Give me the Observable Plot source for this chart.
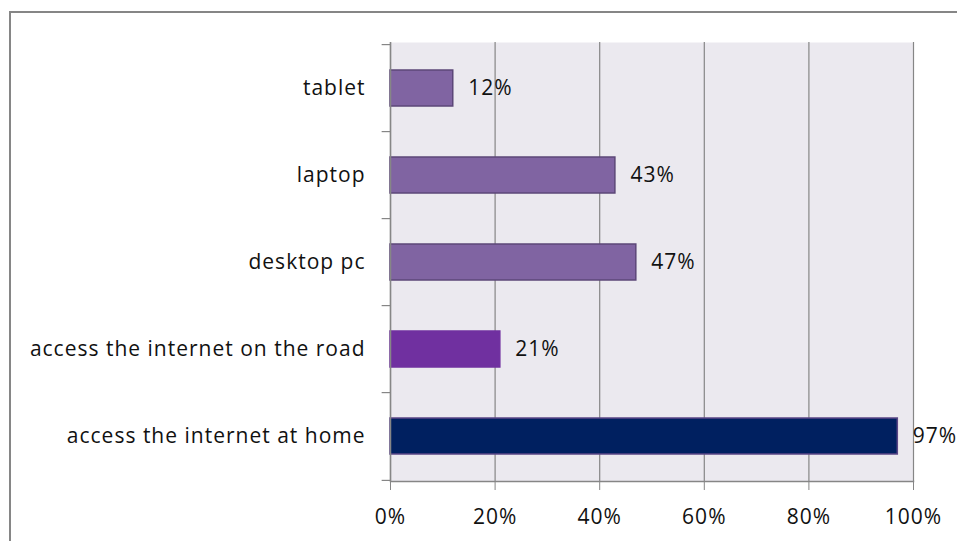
<!DOCTYPE html>
<html>
<head>
<meta charset="utf-8">
<script src="https://cdn.jsdelivr.net/npm/d3@7"></script>
<script src="https://cdn.jsdelivr.net/npm/@observablehq/plot@0.6"></script>
<style>
  html, body { margin: 0; padding: 0; background: #fff; overflow: hidden; }
  #wrap { position: relative; width: 957px; height: 541px; }
  #frame { position: absolute; left: 9px; top: 11px; width: 1200px; height: 800px;
           border: 2px solid #868686; box-sizing: border-box; }
  #chart { position: absolute; left: 0; top: 0; }
  #chart text { letter-spacing: 1px; }
</style>
</head>
<body>
<div id="wrap"><div id="frame"></div><div id="chart"></div></div>
<script>
const categories = ["tablet", "laptop", "desktop pc", "access the internet on the road", "access the internet at home"];
const values = [12, 43, 47, 21, 97];
const fillColors = ["#8064A2", "#8064A2", "#8064A2", "#7030A0", "#002060"];
const strokeColors = ["#5C4778", "#5C4778", "#5C4778", "#7030A0", "#5A4686"];
const xTicks = [0, 20, 40, 60, 80, 100];

const data = categories.map((c, i) => ({cat: c, value: values[i], fill: fillColors[i], stroke: strokeColors[i]}));

const W = 957, H = 541, mT = 42, mB = 60, mL = 390, mR = 44;
const half = (H - mT - mB) / categories.length / 2;

const chart = Plot.plot({
  width: W, height: H,
  marginTop: mT, marginBottom: mB, marginLeft: mL, marginRight: mR,
  style: {fontFamily: "'Open Sans', Lato, sans-serif", fontSize: "21px", color: "#000", background: "transparent", overflow: "visible"},
  x: {domain: [0, 100]},
  y: {domain: categories, paddingInner: 0.59, paddingOuter: 0.295},
  marks: [
    Plot.frame({fill: "#EBE9EF", stroke: null}),
    Plot.gridX(xTicks, {stroke: "#868686", strokeOpacity: 1, strokeWidth: 1.2}),
    Plot.barX(data, {y: "cat", x: "value", fill: d => d.fill, stroke: d => d.stroke, strokeWidth: 1.5}),
    Plot.text(data, {y: "cat", x: "value", text: d => d.value + "%", textAnchor: "start", dx: 15, fill: "#111", fontSize: 21}),
    Plot.ruleX([0], {stroke: "#868686", strokeWidth: 1.5}),
    Plot.frame({anchor: "bottom", stroke: "#868686", strokeWidth: 1.5}),
    Plot.ruleY(categories, {y: d => d, x1: -1.6, x2: 0, dy: -half, stroke: "#868686", strokeWidth: 1.2}),
    Plot.ruleY(categories.slice(-1), {y: d => d, x1: -1.6, x2: 0, dy: half, stroke: "#868686", strokeWidth: 1.2}),
    Plot.axisX(xTicks, {tickSize: 9, tickPadding: 19, tickFormat: d => d + "%", stroke: "#868686", fill: "#111", fontSize: 21, label: null}),
    Plot.axisY({tickSize: 0, tickPadding: 25, fill: "#111", fontSize: 21, label: null})
  ]
});
document.getElementById("chart").appendChild(chart);
</script>
</body>
</html>
